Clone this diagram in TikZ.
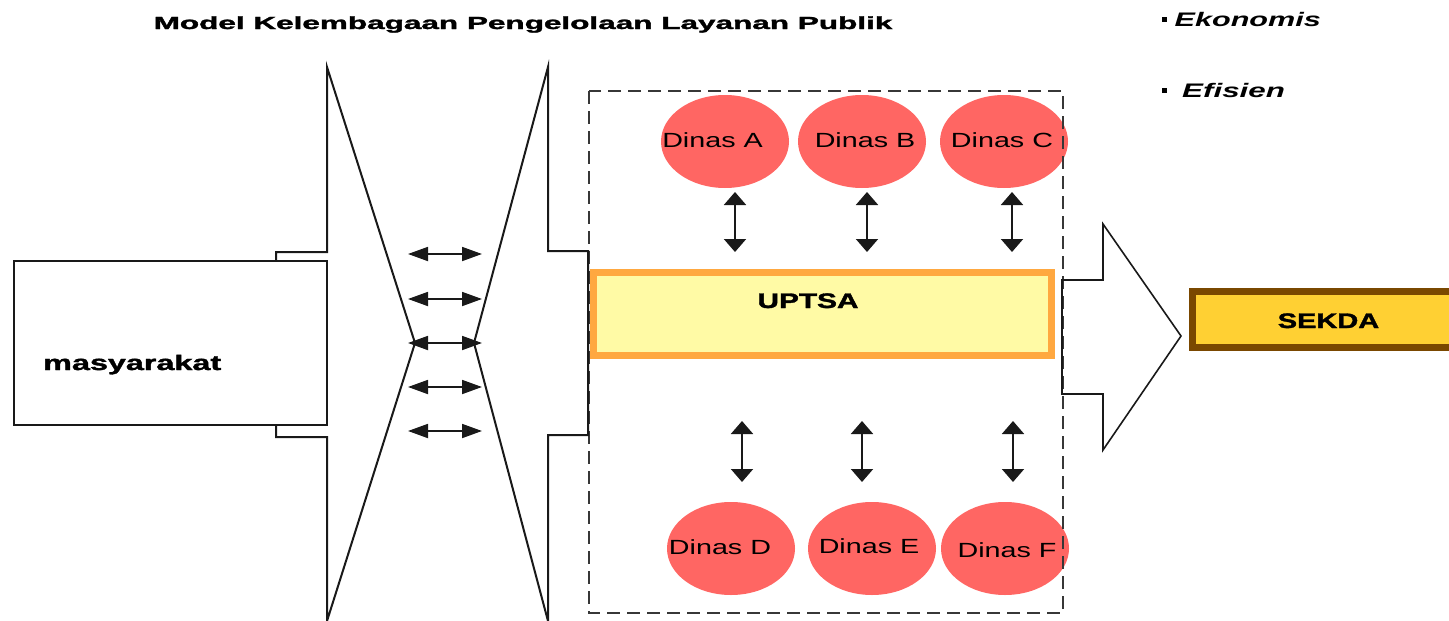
\documentclass[tikz,border=0pt]{standalone}
\usepackage{fontspec}
\setmainfont{Liberation Sans}[BoldFeatures={FakeBold=1.5}]
\usetikzlibrary{arrows.meta,shapes.geometric}
\definecolor{salmon}{RGB}{255,102,99}
\definecolor{uorange}{RGB}{255,168,64}
\definecolor{uyellow}{RGB}{255,250,165}
\definecolor{sbrown}{RGB}{122,72,0}
\definecolor{sgold}{RGB}{255,208,51}
\definecolor{ink}{RGB}{25,25,25}
\definecolor{dgray}{RGB}{55,55,55}
\newcommand\sxt[2]{\scalebox{#1}[1]{#2}}
\begin{document}
\begin{tikzpicture}[x=1pt,y=-1pt,
  outl/.style={draw=ink,line width=2pt,line join=miter},
  circ/.style={ellipse,fill=salmon,draw=none,minimum width=128pt,minimum height=93pt,inner sep=0pt},
  dtext/.style={anchor=base,inner sep=0pt,font=\fontsize{20.5}{24}\selectfont},
  btext/.style={anchor=base,inner sep=0pt,font=\bfseries\fontsize{21}{24}\selectfont},
  itext/.style={anchor=base west,inner sep=0pt,font=\bfseries\itshape\fontsize{19.6}{22}\selectfont},
  harr/.style={ink,line width=1.8pt,{Triangle[length=20pt,width=14pt]}-{Triangle[length=20pt,width=14pt]}},
  varr/.style={ink,line width=2pt,{Triangle[length=13pt,width=22pt]}-{Triangle[length=13pt,width=22pt]}},
  dbox/.style={draw=dgray,line width=1.8pt,dash pattern=on 13pt off 7pt},
  ]
\useasboundingbox (0,0) rectangle (1449,621);
\clip (0,0) rectangle (1449,621);

% title and bullets
\node[anchor=base,inner sep=0pt,font=\bfseries\fontsize{17.5}{20}\selectfont] (title) at (523,29)
  {\sxt{1.80}{Model Kelembagaan Pengelolaan Layanan Publik}};
\node[itext] (b1) at (1162,26) {\sxt{1.56}{\raisebox{4.5pt}{\rule{3pt}{4.5pt}}\kern5pt Ekonomis}};
\node[itext] (b2) at (1162,97) {\sxt{1.60}{\raisebox{4.5pt}{\rule{3pt}{4.5pt}}\kern9.5pt Efisien}};

% circles
\node[circ] (dA) at (725,141.5) {};
\node[circ] (dB) at (862,141.5) {};
\node[circ] (dC) at (1004,141.5) {};
\node[circ] (dD) at (731,548.5) {};
\node[circ] (dE) at (872,548.5) {};
\node[circ] (dF) at (1005,548.5) {};
\node[dtext] (tA) at (712.5,147) {\sxt{1.4}{Dinas A}};
\node[dtext] (tB) at (865,147) {\sxt{1.4}{Dinas B}};
\node[dtext] (tC) at (1002,147) {\sxt{1.4}{Dinas C}};
\node[dtext] (tD) at (720,554) {\sxt{1.4}{Dinas D}};
\node[dtext] (tE) at (869,553) {\sxt{1.4}{Dinas E}};
\node[dtext] (tF) at (1007,557) {\sxt{1.4}{Dinas F}};

% dashed frame
\draw[dbox] (589,91) rectangle (1063,613);

% UPTSA
\node[draw=uorange,fill=uyellow,line width=7pt,minimum width=458pt,minimum height=83pt,inner sep=0pt] (up) at (822.5,314) {};
\node[btext] (upt) at (808,308) {\sxt{1.42}{UPTSA}};

% left block arrow (masyarakat)
\draw[outl,fill=white] (276,252) -- (327,252) -- (327,67) -- (415,343) -- (327,621) -- (327,437) -- (276,437) -- cycle;
\node[draw=ink,line width=2pt,fill=white,minimum width=313pt,minimum height=164pt,inner sep=0pt] (mas) at (170.5,343) {};
\node[anchor=base west,inner sep=0pt,font=\bfseries\fontsize{21}{24}\selectfont] (mast) at (43,370) {\sxt{1.54}{masyarakat}};

% left-pointing block arrow
\draw[outl] (588,251) -- (548,251) -- (548,67) -- (474,343) -- (548,621) -- (548,435) -- (588,435) -- cycle;

% right block arrow
\draw[outl,line width=1.6pt] (1062,280) -- (1103,280) -- (1103,224) -- (1181,336) -- (1103,450) -- (1103,394) -- (1062,394) -- cycle;

% SEKDA
\node[draw=sbrown,fill=sgold,line width=7pt,minimum width=300pt,minimum height=56pt,inner sep=0pt] (sek) at (1342.5,319.5) {};
\node[btext] (sekt) at (1328.5,328) {\sxt{1.38}{SEKDA}};

% horizontal double arrows
\foreach \i/\yy in {1/254,2/299,3/343,4/387,5/431}{
  \coordinate (hl\i) at (408,\yy);
  \coordinate (hr\i) at (482,\yy);
  \draw[harr] (hl\i) -- (hr\i);
}

% vertical double arrows
\foreach \n/\xx in {a/735,b/867,c/1012}{
  \coordinate (vt\n) at (\xx,192);
  \coordinate (vb\n) at (\xx,252);
  \draw[varr] (vt\n) -- (vb\n);
}
\foreach \n/\xx in {d/742,e/862,f/1013}{
  \coordinate (vt\n) at (\xx,421);
  \coordinate (vb\n) at (\xx,482);
  \draw[varr] (vt\n) -- (vb\n);
}
\end{tikzpicture}
\end{document}
